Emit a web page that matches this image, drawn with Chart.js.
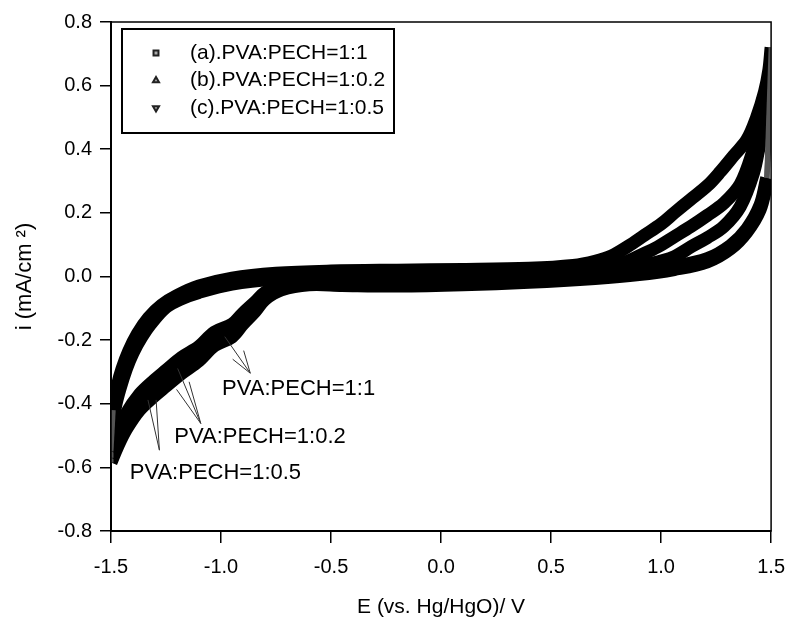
<!DOCTYPE html>
<html>
<head>
<meta charset="utf-8">
<script src="https://cdn.jsdelivr.net/npm/chart.js@4.4.1/dist/chart.umd.min.js"></script>
<style>
  html, body { margin: 0; padding: 0; background: #fff; }
  #wrap { width: 797px; height: 621px; }
</style>
</head>
<body>
<div id="wrap"><canvas id="myChart"></canvas></div>
<script>
const seriesLabels = ['(a).PVA:PECH=1:1', '(b).PVA:PECH=1:0.2', '(c).PVA:PECH=1:0.5'];
const xTicks = [-1.5, -1.0, -0.5, 0.0, 0.5, 1.0, 1.5];
const yTicks = [-0.8, -0.6, -0.4, -0.2, 0.0, 0.2, 0.4, 0.6, 0.8];

// (a) 1:1 - anodic sweep (left to right) and return sweep (right to left)
const aFwdE = [-1.49, -1.47, -1.45, -1.42, -1.38, -1.33, -1.27, -1.2, -1.1, -0.95, -0.75, -0.5, -0.2, 0.1, 0.4, 0.6, 0.7, 0.775, 0.85, 0.925, 1.0, 1.06, 1.13, 1.21, 1.27, 1.33, 1.39, 1.434, 1.47, 1.49, 1.5];
const aFwdI = [-0.42, -0.34, -0.29, -0.235, -0.18, -0.13, -0.09, -0.06, -0.03, -0.005, 0.01, 0.017, 0.02, 0.022, 0.026, 0.035, 0.048, 0.065, 0.095, 0.13, 0.165, 0.2, 0.24, 0.285, 0.33, 0.38, 0.43, 0.5, 0.58, 0.65, 0.72];
const aRevE = [1.48, 1.45, 1.39, 1.315, 1.21, 1.06, 0.9, 0.7, 0.4, 0.1, -0.2, -0.45, -0.6, -0.725, -0.8, -0.845, -0.9, -0.95, -1.03, -1.1, -1.18, -1.25, -1.31, -1.37, -1.43, -1.47, -1.5];
const aRevI = [0.31, 0.225, 0.15, 0.097, 0.056, 0.032, 0.018, 0.006, -0.006, -0.013, -0.016, -0.015, -0.012, -0.025, -0.05, -0.08, -0.115, -0.15, -0.175, -0.22, -0.255, -0.295, -0.33, -0.37, -0.43, -0.49, -0.55];

// (b) 1:0.2
const bFwdE = [-1.5, -1.48, -1.46, -1.43, -1.4, -1.36, -1.32, -1.25, -1.18, -1.1, -0.95, -0.75, -0.5, -0.2, 0.1, 0.4, 0.6, 0.7, 0.835, 0.91, 0.985, 1.06, 1.135, 1.21, 1.285, 1.36, 1.42, 1.46, 1.49, 1.5];
const bFwdI = [-0.46, -0.38, -0.325, -0.265, -0.22, -0.17, -0.135, -0.084, -0.057, -0.037, -0.011, 0.004, 0.012, 0.015, 0.017, 0.02, 0.024, 0.03, 0.045, 0.068, 0.093, 0.125, 0.157, 0.192, 0.23, 0.29, 0.4, 0.5, 0.58, 0.63];
const bRevE = [1.48, 1.45, 1.39, 1.315, 1.21, 1.06, 0.9, 0.7, 0.4, 0.1, -0.2, -0.45, -0.6, -0.725, -0.8, -0.845, -0.9, -0.95, -1.03, -1.1, -1.18, -1.25, -1.31, -1.37, -1.43, -1.47, -1.5];
const bRevI = [0.30, 0.218, 0.145, 0.092, 0.051, 0.027, 0.012, 0.0, -0.012, -0.02, -0.023, -0.021, -0.018, -0.033, -0.06, -0.095, -0.132, -0.168, -0.195, -0.24, -0.28, -0.32, -0.355, -0.395, -0.455, -0.515, -0.57];

// (c) 1:0.5
const cFwdE = [-1.5, -1.48, -1.46, -1.43, -1.4, -1.36, -1.32, -1.25, -1.18, -1.1, -0.95, -0.75, -0.5, -0.2, 0.1, 0.4, 0.65, 0.8, 0.95, 1.06, 1.135, 1.21, 1.285, 1.36, 1.42, 1.45, 1.48, 1.5];
const cFwdI = [-0.5, -0.41, -0.355, -0.29, -0.24, -0.19, -0.15, -0.097, -0.07, -0.05, -0.024, -0.008, 0.0, 0.005, 0.008, 0.012, 0.016, 0.022, 0.04, 0.062, 0.093, 0.122, 0.157, 0.22, 0.325, 0.42, 0.5, 0.55];
const cRevE = [1.48, 1.45, 1.39, 1.315, 1.21, 1.06, 0.9, 0.7, 0.4, 0.1, -0.2, -0.45, -0.6, -0.725, -0.8, -0.845, -0.9, -0.95, -1.03, -1.1, -1.18, -1.25, -1.31, -1.37, -1.43, -1.47, -1.5];
const cRevI = [0.29, 0.21, 0.14, 0.087, 0.046, 0.022, 0.006, -0.006, -0.018, -0.026, -0.03, -0.028, -0.026, -0.042, -0.072, -0.11, -0.15, -0.19, -0.218, -0.265, -0.305, -0.345, -0.38, -0.42, -0.48, -0.535, -0.585];

// callouts on the cathodic side (text anchor + leader tips, in data units)
const notes = [
  { text: 'PVA:PECH=1:1',   at: [-0.995, -0.355], from: [-0.867, -0.304], tips: [[-0.983, -0.189], [-0.947, -0.26], [-0.897, -0.233]] },
  { text: 'PVA:PECH=1:0.2', at: [-1.212, -0.504], from: [-1.092, -0.462], tips: [[-1.197, -0.289], [-1.202, -0.355], [-1.145, -0.331]] },
  { text: 'PVA:PECH=1:0.5', at: [-1.415, -0.617], from: [-1.28, -0.546],  tips: [[-1.332, -0.388], [-1.295, -0.388]] }
];

const markers = [
  { pointStyle: 'rect', rotation: 0 },
  { pointStyle: 'triangle', rotation: 0 },
  { pointStyle: 'triangle', rotation: 180 }
];

const pts = (E, I) => E.map((e, k) => ({ x: e, y: I[k] }));
const FONT = "'Liberation Sans', Arial, Helvetica, sans-serif";

function band(label, E, I) {
  return {
    label: label,
    data: pts(E, I),
    showLine: true,
    borderColor: '#000',
    borderWidth: 13,
    borderCapStyle: 'butt',
    borderJoinStyle: 'round',
    pointRadius: 0,
    tension: 0.35,
    fill: false
  };
}
// sparse marker stretch where the sweep turns at ±1.5 V
function edge(p, q) {
  return {
    label: '',
    data: [p, q],
    showLine: true,
    borderColor: '#555',
    borderWidth: 5,
    pointRadius: 0,
    fill: false
  };
}

const curves = [
  [aFwdE, aFwdI, aRevE, aRevI],
  [bFwdE, bFwdI, bRevE, bRevI],
  [cFwdE, cFwdI, cRevE, cRevI]
];
const datasets = [];
curves.forEach(([fE, fI, rE, rI], k) => {
  const fwd = pts(fE, fI), rev = pts(rE, rI);
  datasets.push(edge(fwd[fwd.length - 1], rev[0]));
  datasets.push(edge(rev[rev.length - 1], fwd[0]));
  datasets.push(band(seriesLabels[k], fE, fI));
  datasets.push(band(seriesLabels[k], rE, rI));
});

const frame = {
  id: 'frame',
  afterDraw(chart) {
    const { ctx, chartArea: a } = chart;
    ctx.save();
    ctx.strokeStyle = '#000';
    ctx.lineWidth = 1.5;
    ctx.strokeRect(a.left, a.top, a.right - a.left, a.bottom - a.top);
    ctx.restore();
  }
};

const callouts = {
  id: 'callouts',
  afterDatasetsDraw(chart) {
    const { ctx, scales: { x, y } } = chart;
    ctx.save();
    ctx.strokeStyle = '#333';
    ctx.lineWidth = 1;
    ctx.fillStyle = '#000';
    ctx.font = '22px ' + FONT;
    ctx.textBaseline = 'middle';
    ctx.textAlign = 'left';
    notes.forEach(n => {
      const ox = x.getPixelForValue(n.from[0]), oy = y.getPixelForValue(n.from[1]);
      n.tips.forEach(t => {
        ctx.beginPath();
        ctx.moveTo(ox, oy);
        ctx.lineTo(x.getPixelForValue(t[0]), y.getPixelForValue(t[1]));
        ctx.stroke();
      });
      ctx.fillText(n.text, x.getPixelForValue(n.at[0]), y.getPixelForValue(n.at[1]));
    });
    ctx.restore();
  }
};

const legendBox = {
  id: 'legendBox',
  afterDraw(chart) {
    const { ctx, chartArea: a } = chart;
    const left = a.left + 11, top = a.top + 7, w = 272, h = 104;
    ctx.save();
    ctx.fillStyle = '#fff';
    ctx.fillRect(left, top, w, h);
    ctx.strokeStyle = '#000';
    ctx.lineWidth = 2;
    ctx.strokeRect(left, top, w, h);
    ctx.font = '21px ' + FONT;
    ctx.textBaseline = 'middle';
    seriesLabels.forEach((s, k) => {
      const cy = top + 24 + k * 27.5;
      ctx.strokeStyle = '#222';
      ctx.fillStyle = '#aaa';
      Chart.helpers.drawPoint(ctx, {
        pointStyle: markers[k].pointStyle,
        rotation: markers[k].rotation,
        radius: 3.5,
        borderWidth: 1.5
      }, left + 34, cy);
      ctx.fillStyle = '#000';
      ctx.fillText(s, left + 68, cy);
    });
    ctx.restore();
  }
};

const fmt = v => (Math.abs(v) < 1e-9 ? 0 : v).toFixed(1);

new Chart('myChart', {
  type: 'scatter',
  data: { datasets: datasets },
  options: {
    responsive: true,
    maintainAspectRatio: false,
    animation: false,
    layout: { padding: { top: 22, right: 18, left: 0, bottom: 0 } },
    plugins: {
      legend: { display: false },
      tooltip: { enabled: false }
    },
    scales: {
      x: {
        type: 'linear',
        min: -1.5,
        max: 1.5,
        afterBuildTicks: s => { s.ticks = xTicks.map(v => ({ value: v })); },
        afterFit: s => { s.height = 90; },
        ticks: { callback: fmt, color: '#000', font: { size: 20, family: FONT }, padding: 12, maxRotation: 0 },
        grid: { drawOnChartArea: false, drawTicks: true, tickLength: 12, color: '#000', lineWidth: 1.5 },
        border: { display: true, color: '#000', width: 2 },
        title: { display: true, text: 'E (vs. Hg/HgO)/ V', color: '#000', font: { size: 21, family: FONT }, padding: { top: 2, bottom: 1 } }
      },
      y: {
        type: 'linear',
        min: -0.8,
        max: 0.8,
        afterBuildTicks: s => { s.ticks = yTicks.map(v => ({ value: v })); },
        afterFit: s => { s.width = 111; },
        ticks: { callback: fmt, color: '#000', font: { size: 20, family: FONT }, padding: 8 },
        grid: { drawOnChartArea: false, drawTicks: true, tickLength: 11, color: '#000', lineWidth: 1.5 },
        border: { display: true, color: '#000', width: 2 },
        title: { display: true, text: 'i (mA/cm ²)', color: '#000', font: { size: 22, family: FONT }, padding: { top: 12, bottom: 2 } }
      }
    }
  },
  plugins: [frame, callouts, legendBox]
});
</script>
</body>
</html>
